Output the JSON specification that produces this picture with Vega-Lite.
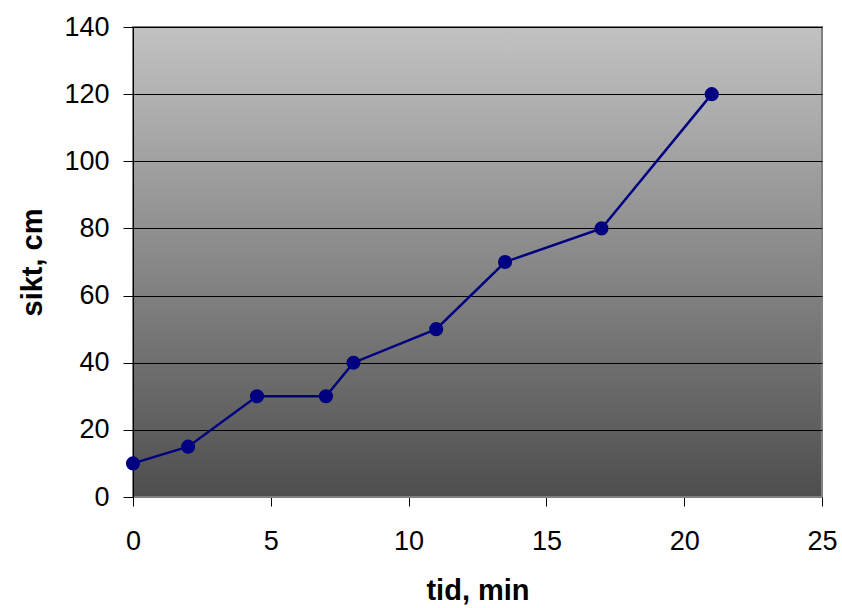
{
  "$schema": "https://vega.github.io/schema/vega-lite/v6.json",
  "width": 689,
  "height": 470,
  "autosize": "none",
  "padding": {"left": 133, "top": 27, "right": 20, "bottom": 111},
  "background": "white",
  "view": {
    "stroke": "#808080",
    "strokeWidth": 2,
    "fill": {
      "gradient": "linear",
      "x1": 0, "y1": 0, "x2": 0, "y2": 1,
      "stops": [
        {"offset": 0, "color": "#c2c2c2"},
        {"offset": 1, "color": "#4e4e4e"}
      ]
    }
  },
  "data": {
    "values": [
      {"tid": 0, "sikt": 10},
      {"tid": 2, "sikt": 15},
      {"tid": 4.5, "sikt": 30},
      {"tid": 7, "sikt": 30},
      {"tid": 8, "sikt": 40},
      {"tid": 11, "sikt": 50},
      {"tid": 13.5, "sikt": 70},
      {"tid": 17, "sikt": 80},
      {"tid": 21, "sikt": 120}
    ]
  },
  "encoding": {
    "x": {
      "field": "tid", "type": "quantitative",
      "scale": {"domain": [0, 25], "nice": false, "zero": true},
      "axis": {
        "title": "tid, min", "values": [0, 5, 10, 15, 20, 25], "grid": false, "labelFlush": false,
        "tickSize": 9, "tickColor": "black", "domainColor": "#808080", "domainWidth": 1,
        "labelFont": "Arial", "labelFontSize": 27, "labelColor": "black", "labelPadding": 22,
        "titleFont": "Arial", "titleFontSize": 29, "titleFontWeight": "bold", "titleColor": "black",
        "titlePadding": 22
      }
    },
    "y": {
      "field": "sikt", "type": "quantitative",
      "scale": {"domain": [0, 140], "nice": false},
      "axis": {
        "title": "sikt, cm", "values": [0, 20, 40, 60, 80, 100, 120, 140], "grid": true, "labelFlush": false,
        "gridColor": "black", "gridOpacity": 1, "gridWidth": 1,
        "tickSize": 10, "tickColor": "black", "domainColor": "black", "domainWidth": 1,
        "labelFont": "Arial", "labelFontSize": 27, "labelColor": "black", "labelPadding": 14,
        "titleFont": "Arial", "titleFontSize": 29, "titleFontWeight": "bold", "titleColor": "black",
        "titlePadding": 16
      }
    }
  },
  "layer": [
    {"mark": {"type": "line", "color": "#000080", "strokeWidth": 2.5}},
    {"mark": {"type": "point", "filled": true, "color": "#000080", "opacity": 1, "size": 200}}
  ]
}
